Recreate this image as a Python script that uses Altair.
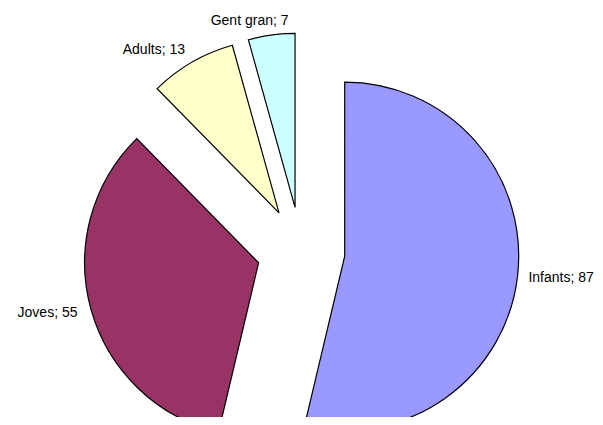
import altair as alt
import pandas as pd

categories = ["Infants", "Joves", "Adults", "Gent gran"]
values = [87, 55, 13, 7]
colors = ["#9999FF", "#993366", "#FFFFCC", "#CCFFFF"]

# layout constants (pixels, chart coordinates)
CX, CY = 293, 243      # undisplaced pie centre
R = 174                # pie radius
EXPLODE = 44           # explosion distance for every slice
LABEL_GAP = 14         # distance of labels beyond the rim

df = pd.DataFrame({"category": categories, "value": values, "idx": list(range(len(values)))})

base = alt.Chart(df).transform_window(
    cum="sum(value)", sort=[alt.SortField("idx")], frame=[None, 0]
).transform_joinaggregate(
    total="sum(value)"
).transform_calculate(
    a0="2*PI*(datum.cum - datum.value)/datum.total",
    a1="2*PI*datum.cum/datum.total",
).transform_calculate(
    mid="(datum.a0 + datum.a1)/2",
).transform_calculate(
    px=f"{CX} + {EXPLODE}*sin(datum.mid)",
    py=f"{CY} - {EXPLODE}*cos(datum.mid)",
    lx=f"{CX} + {EXPLODE + R + LABEL_GAP}*sin(datum.mid)",
    ly=f"{CY} - {EXPLODE + R + LABEL_GAP}*cos(datum.mid)",
    s="sin(datum.mid)",
    label="datum.category + '; ' + datum.value",
)

arcs = base.mark_arc(outerRadius=R, stroke="black", strokeWidth=1.2).encode(
    x=alt.X("px:Q", scale=None),
    y=alt.Y("py:Q", scale=None),
    theta=alt.Theta("a0:Q", scale=None),
    theta2="a1:Q",
    color=alt.Color("category:N", scale=alt.Scale(domain=categories, range=colors), legend=None),
)

text_kw = dict(font="Liberation Sans", fontSize=14, color="black", baseline="middle")
enc = dict(x=alt.X("lx:Q", scale=None), y=alt.Y("ly:Q", scale=None), text="label:N")

left = base.transform_filter("datum.s > 0.3").mark_text(align="left", dx=-3, **text_kw).encode(**enc)
right = base.transform_filter("datum.s < -0.3").mark_text(align="right", **text_kw).encode(**enc)
center = base.transform_filter("datum.s >= -0.3 && datum.s <= 0.3").mark_text(
    align="center", dx=-20, **text_kw).encode(**enc)

chart = alt.layer(arcs, left, right, center).properties(
    width=587, height=409, padding=0, autosize="none"
).configure_view(stroke=None)

chart.save("out.html", embed_options={"renderer": "svg", "actions": False})
